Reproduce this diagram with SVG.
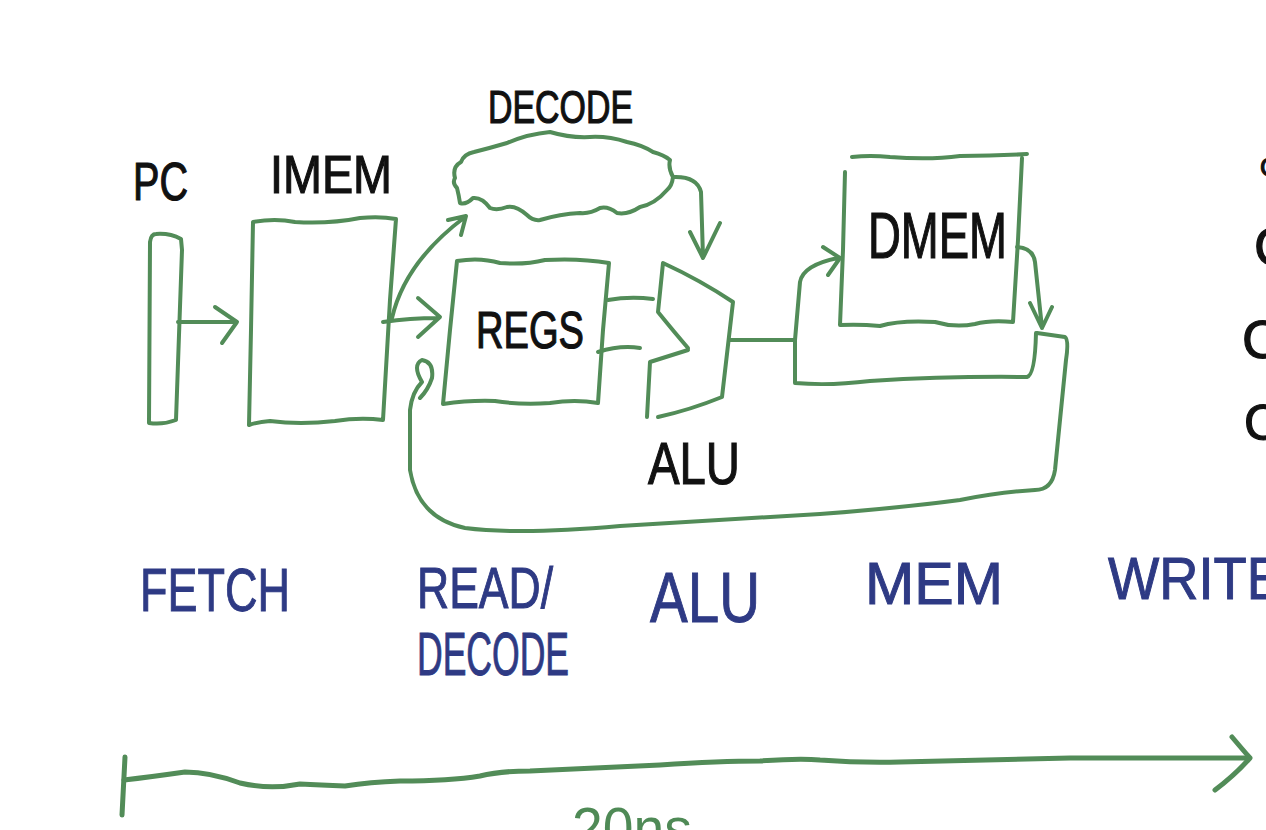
<svg xmlns="http://www.w3.org/2000/svg" width="1266" height="830" viewBox="0 0 1266 830">
<style>
.g{fill:none;stroke:#528c58;stroke-width:4;stroke-linecap:round;stroke-linejoin:round}
.t{fill:none;stroke:#528c58;stroke-width:5;stroke-linecap:round;stroke-linejoin:round}
.k{font-family:"Liberation Sans","DejaVu Sans",sans-serif;fill:#111;stroke:#111;stroke-width:1.2}
.b{font-family:"Liberation Sans","DejaVu Sans",sans-serif;fill:#2e3a84;stroke:#2e3a84;stroke-width:1}
.gt{font-family:"Liberation Sans","DejaVu Sans",sans-serif;fill:#4f8a56}
</style>
<rect width="1266" height="830" fill="#fff"/>
<g id="node-pc">
<path class="g" d="M156,234 Q170,233 181,239 L182,250 L176,420 Q163,425 149,423 L150,242 Q151,234 156,234 Z"/>
<text class="k" x="133" y="200" font-size="54" textLength="55" lengthAdjust="spacingAndGlyphs">PC</text>
</g>
<g id="node-imem">
<path class="g" d="M253,222 Q275,218 295,222 Q330,224 360,218 Q380,216 396,219 L390,300 L383,420 Q360,417 335,421 Q300,425 270,421 Q258,422 249,425 L251,330 Z"/>
<text class="k" x="270" y="193" font-size="54" textLength="122" lengthAdjust="spacingAndGlyphs">IMEM</text>
</g>
<g id="node-decode">
<path class="g" d="M455,178 Q452,167 461,162 Q464,154 474,152 Q490,148 507,143 Q528,134 550,132 Q570,138 590,137 Q608,136 627,142 Q642,145 653,152 Q664,155 670,160 Q668,168 673,177 Q672,186 667,190 Q655,204 640,207 Q628,215 617,213 Q608,206 600,208 Q590,214 580,213 Q560,214 540,220 Q533,221 527,215 Q516,205 507,207 Q497,211 490,208 Q482,197 473,198 Q466,205 460,203 Q459,196 457,188 Q452,183 455,178 Z"/>
<text class="k" x="488" y="123" font-size="46" textLength="145" lengthAdjust="spacingAndGlyphs">DECODE</text>
</g>
<g id="node-regs">
<path class="g" d="M457,261 Q480,257 500,263 Q525,265 545,260 Q580,258 609,263 L603,330 L598,403 Q575,399 550,403 Q520,405 495,401 Q470,400 443,404 L450,330 Z"/>
<text class="k" x="476" y="348" font-size="52" textLength="108" lengthAdjust="spacingAndGlyphs">REGS</text>
</g>
<g id="node-alu">
<path class="g" d="M658,417 Q690,410 722,397 L733,302 Q700,280 663,263 L658,312 Q675,333 688,348"/>
<path class="g" d="M688,350 L650,362 L647,417"/>
<text class="k" x="648" y="484" font-size="60" textLength="92" lengthAdjust="spacingAndGlyphs">ALU</text>
</g>
<g id="node-dmem">
<path class="g" d="M852,157 Q870,155 890,157 Q930,160 960,156 Q995,156 1027,154 M1022,158 L1018,240 L1013,322 Q990,320 975,324 Q955,328 935,322 Q900,320 880,326 Q860,324 840,325 L843,250 L845,172"/>
<text class="k" x="868" y="258" font-size="64" textLength="139" lengthAdjust="spacingAndGlyphs">DMEM</text>
</g>
<g id="connectors">
<path class="g" d="M178,322 L237,322 M215,307 L237,322 L222,343"/>
<path class="g" d="M383,322 Q410,318 438,318 M418,298 L440,317 L418,337"/>
<path class="g" d="M392,318 Q405,262 465,217 M448,220 L466,216 L461,235"/>
<path class="g" d="M673,177 Q697,176 701,192 L703,257 M690,232 L703,258 L720,223"/>
<path class="g" d="M608,300 Q630,296 653,299 M598,352 Q620,345 640,348"/>
<path class="g" d="M730,340 L795,340"/>
<path class="g" d="M795,340 L800,282 Q803,265 838,258 M823,247 L840,258 L828,275"/>
<path class="g" d="M795,340 L795,383 Q830,386 870,381 Q950,376 1027,377 Q1035,375 1036,333"/>
<path class="g" d="M1017,247 Q1033,248 1035,262 L1042,328 M1030,303 L1042,328 L1052,307"/>
<path class="g" d="M1037,333 L1065,337 Q1069,340 1066,360 L1055,470 Q1052,490 1035,490 Q1000,492 960,500 Q900,508 820,514 Q720,520 620,526 Q520,535 465,528 Q418,518 410,470 L410,410 Q412,392 422,382 Q412,365 422,360 Q434,362 432,378 Q428,390 420,398"/>
</g>
<g id="timeline">
<path class="t" d="M125,757 L122,815"/>
<path class="t" d="M124,780 Q150,777 185,772 Q210,772 240,783 Q270,790 300,784 Q320,785 345,786 Q370,782 400,781 Q450,781 480,776 Q500,771 530,771 Q600,768 660,765 Q720,761 760,761 Q800,758 820,760 Q860,763 900,762 Q1000,760 1070,758 Q1150,758 1248,758"/>
<path class="t" d="M1232,737 Q1243,750 1250,758 Q1235,775 1215,790"/>
<text class="gt" x="572" y="848" font-size="58" textLength="120" lengthAdjust="spacingAndGlyphs">20ns</text>
</g>
<g id="stage-labels">
<text class="b" x="140" y="611" font-size="62" textLength="150" lengthAdjust="spacingAndGlyphs">FETCH</text>
<text class="b" x="417" y="608" font-size="58" textLength="136" lengthAdjust="spacingAndGlyphs">READ/</text>
<text class="b" x="417" y="675" font-size="62" textLength="152" lengthAdjust="spacingAndGlyphs">DECODE</text>
<text class="b" x="650" y="622" font-size="70" textLength="110" lengthAdjust="spacingAndGlyphs">ALU</text>
<text class="b" x="865" y="604" font-size="60" textLength="138" lengthAdjust="spacingAndGlyphs">MEM</text>
<text class="b" x="1108" y="599" font-size="60" textLength="175" lengthAdjust="spacingAndGlyphs">WRITE</text>
</g>
<g id="edge-text">
<text class="k" x="1260" y="176" font-size="26">C</text>
<text class="k" x="1254" y="265" font-size="54">C</text>
<text class="k" x="1242" y="358" font-size="54">C</text>
<text class="k" x="1244" y="440" font-size="50">C</text>
</g>
</svg>
